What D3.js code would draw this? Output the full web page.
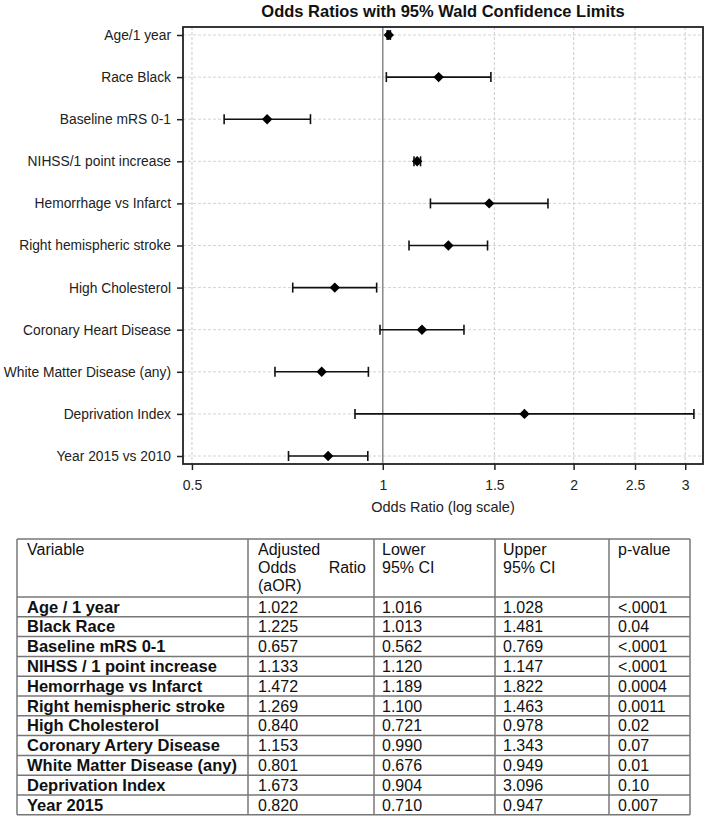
<!DOCTYPE html>
<html><head><meta charset="utf-8">
<script src="https://cdn.jsdelivr.net/npm/d3@7"></script>
<style>body{margin:0;background:#fff;font-family:"Liberation Sans",Arial,sans-serif;}</style>
</head><body><svg id="c" width="709" height="821"></svg>
<script>
const plotLabels = ["Age/1 year","Race Black","Baseline mRS 0-1","NIHSS/1 point increase","Hemorrhage vs Infarct","Right hemispheric stroke","High Cholesterol","Coronary Heart Disease","White Matter Disease (any)","Deprivation Index","Year 2015 vs 2010"];
const tableLabels = ["Age / 1 year","Black Race","Baseline mRS 0-1","NIHSS / 1 point increase","Hemorrhage vs Infarct","Right hemispheric stroke","High Cholesterol","Coronary Artery Disease","White Matter Disease (any)","Deprivation Index","Year 2015"];
const oddsRatio = [1.022,1.225,0.657,1.133,1.472,1.269,0.840,1.153,0.801,1.673,0.820];
const lowerCI  = [1.016,1.013,0.562,1.120,1.189,1.100,0.721,0.990,0.676,0.904,0.710];
const upperCI  = [1.028,1.481,0.769,1.147,1.822,1.463,0.978,1.343,0.949,3.096,0.947];
const pValues  = ["<.0001","0.04","<.0001","<.0001","0.0004","0.0011","0.02","0.07","0.01","0.10","0.007"];
const xTicks = [0.5,1,1.5,2,2.5,3];
const headers = [["Variable"],["Adjusted","Odds Ratio","(aOR)"],["Lower","95% CI"],["Upper","95% CI"],["p-value"]];

const svg = d3.select("#c");
const F = { l:183, r:703, t:27, b:464 };
const x = d3.scaleLog().domain([0.484, 3.2]).range([F.l, F.r]);
const y = d3.scalePoint().domain(plotLabels).range([35, 456]);

// title
svg.append("text").attr("x",(F.l+F.r)/2).attr("y",17).attr("text-anchor","middle")
  .attr("font-size",16.5).attr("font-weight","bold").attr("fill","#111")
  .text("Odds Ratios with 95% Wald Confidence Limits");

// grid
const g = svg.append("g");
g.selectAll(".hg").data(plotLabels).join("line")
  .attr("x1",F.l).attr("x2",F.r).attr("y1",d=>y(d)).attr("y2",d=>y(d))
  .attr("stroke","#d4d4d4").attr("stroke-width",1).attr("stroke-dasharray","3,2");
g.selectAll(".vg").data(xTicks.filter(d=>d!==1)).join("line")
  .attr("x1",d=>x(d)).attr("x2",d=>x(d)).attr("y1",F.t).attr("y2",F.b)
  .attr("stroke","#d4d4d4").attr("stroke-width",1.2).attr("stroke-dasharray","3,2");
// reference line
g.append("line").attr("x1",x(1)).attr("x2",x(1)).attr("y1",F.t).attr("y2",F.b)
  .attr("stroke","#888").attr("stroke-width",1.5);

// error bars
const rows = plotLabels.map((p,i)=>({p, or:oddsRatio[i], lo:lowerCI[i], hi:upperCI[i]}));
const eb = svg.append("g").attr("stroke","#111").attr("stroke-width",1.6);
eb.selectAll(".bar").data(rows).join("line")
  .attr("x1",d=>x(d.lo)).attr("x2",d=>x(d.hi)).attr("y1",d=>y(d.p)).attr("y2",d=>y(d.p));
eb.selectAll(".capl").data(rows).join("line")
  .attr("x1",d=>x(d.lo)).attr("x2",d=>x(d.lo)).attr("y1",d=>y(d.p)-5).attr("y2",d=>y(d.p)+5);
eb.selectAll(".caph").data(rows).join("line")
  .attr("x1",d=>x(d.hi)).attr("x2",d=>x(d.hi)).attr("y1",d=>y(d.p)-5).attr("y2",d=>y(d.p)+5);
svg.append("g").selectAll("path").data(rows).join("path")
  .attr("d",d=>{const cx=x(d.or), cy=y(d.p), r=5.2; return `M${cx},${cy-r}L${cx+r},${cy}L${cx},${cy+r}L${cx-r},${cy}Z`;})
  .attr("fill","#000");

// frame
svg.append("rect").attr("x",F.l).attr("y",F.t).attr("width",F.r-F.l).attr("height",F.b-F.t)
  .attr("fill","none").attr("stroke","#222").attr("stroke-width",1.8);

// axes
const xa = svg.append("g").attr("transform",`translate(0,${F.b})`)
  .call(d3.axisBottom(x).tickValues(xTicks).tickFormat(d3.format("~g")).tickSize(6).tickPadding(10));
xa.select(".domain").remove();
xa.selectAll("line").attr("stroke","#222").attr("stroke-width",1.5);
xa.selectAll("text").attr("font-size",14).attr("fill","#222").attr("font-family","Liberation Sans, Arial, sans-serif");

const ya = svg.append("g").attr("transform",`translate(${F.l},0)`)
  .call(d3.axisLeft(y).tickSize(6).tickPadding(6));
ya.select(".domain").remove();
ya.selectAll("line").attr("stroke","#222").attr("stroke-width",1.5);
ya.selectAll("text").attr("font-size",13.8).attr("fill","#222").attr("font-family","Liberation Sans, Arial, sans-serif");

svg.append("text").attr("x",(F.l+F.r)/2).attr("y",512).attr("text-anchor","middle")
  .attr("font-size",14.5).attr("fill","#222").text("Odds Ratio (log scale)");

// table
const colX = [17,248,374,495,609,690];
const pad = [10,10,8,8,9];
const T = { top:539, headH:58, rowH:19.8 };
const tg = svg.append("g").attr("font-size",16).attr("fill","#111");
const nRows = tableLabels.length;
const bottom = T.top + T.headH + nRows*T.rowH;
// headers
headers.forEach((lines,ci)=>{
  lines.forEach((ln,li)=>{
    const by = 555 + li*18;
    if (ci===1 && ln==="Odds Ratio") {
      tg.append("text").attr("x",colX[ci]+pad[ci]).attr("y",by).text("Odds");
      tg.append("text").attr("x",colX[ci+1]-8).attr("y",by).attr("text-anchor","end").text("Ratio");
    } else {
      tg.append("text").attr("x",colX[ci]+pad[ci]).attr("y",by).text(ln);
    }
  });
});
const fmt = d3.format(".3f");
tableLabels.forEach((lab,i)=>{
  const by = T.top + T.headH + i*T.rowH + 15.5;
  const vals = [lab, fmt(oddsRatio[i]), fmt(lowerCI[i]), fmt(upperCI[i]), pValues[i]];
  vals.forEach((v,ci)=>{
    tg.append("text").attr("x",colX[ci]+pad[ci]).attr("y",by)
      .attr("font-weight",ci===0?"bold":"normal")
      .attr("font-size",ci===0?16.5:16).text(v);
  });
});
// lines
const lg = svg.append("g").attr("stroke","#777").attr("stroke-width",1.5);
const hLines = [T.top, T.top+T.headH].concat(d3.range(1,nRows+1).map(k=>T.top+T.headH+k*T.rowH));
lg.selectAll(".h").data(hLines).join("line")
  .attr("x1",colX[0]).attr("x2",colX[5]).attr("y1",d=>d).attr("y2",d=>d);
lg.selectAll(".v").data(colX).join("line")
  .attr("x1",d=>d).attr("x2",d=>d).attr("y1",T.top).attr("y2",bottom);
</script></body></html>
